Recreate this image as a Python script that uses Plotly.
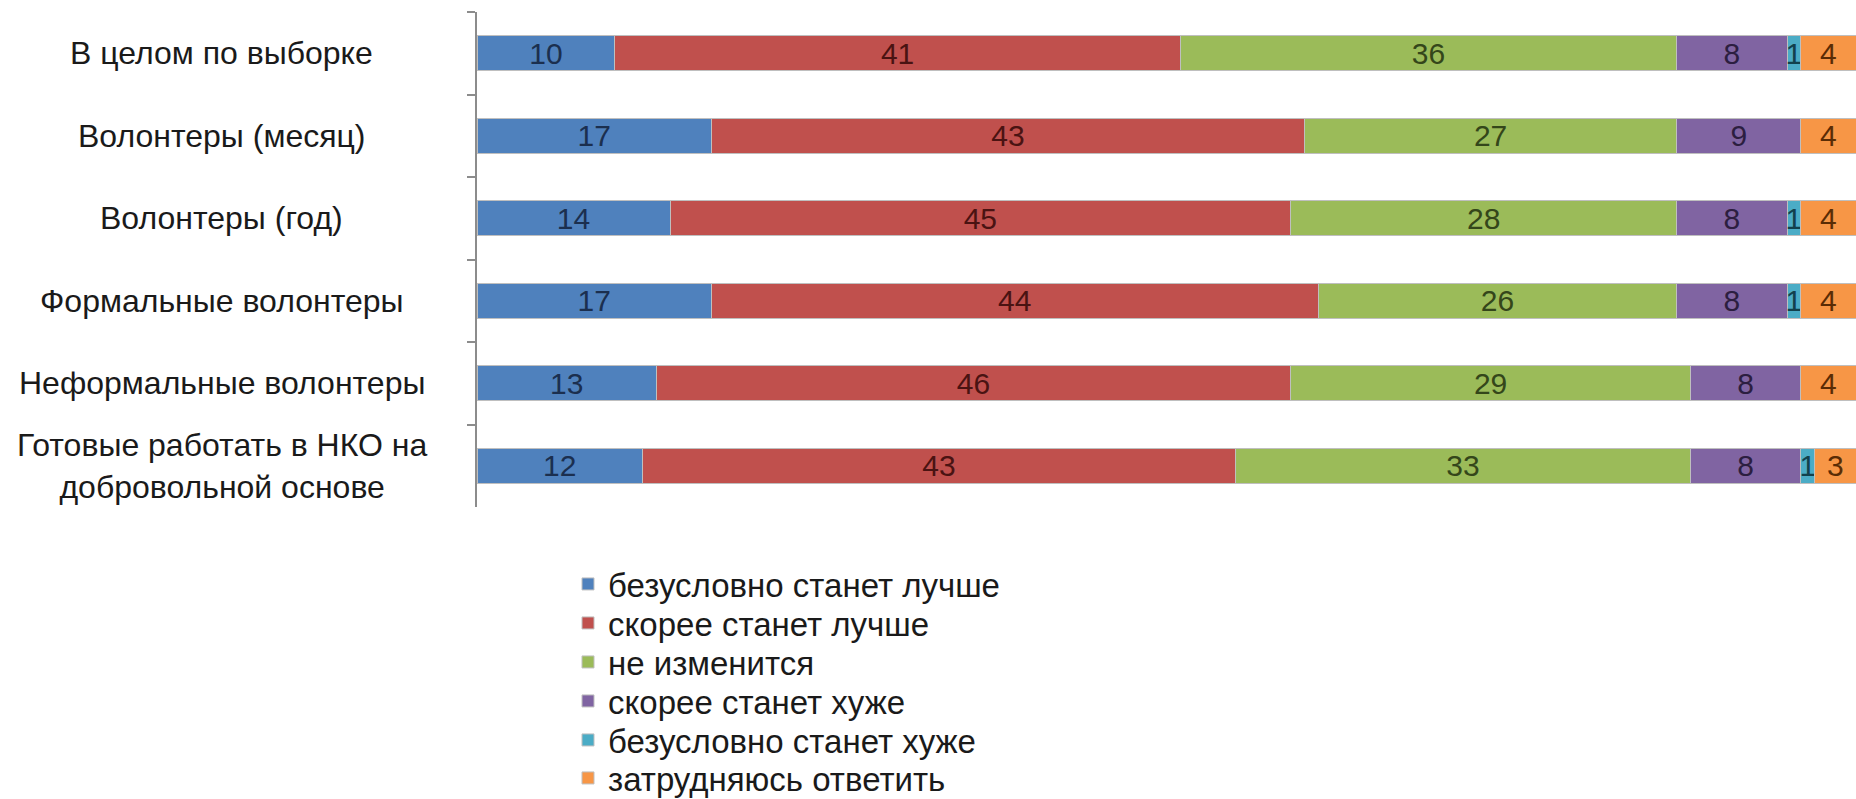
import plotly.graph_objects as go

categories = [
    "В целом по выборке",
    "Волонтеры (месяц)",
    "Волонтеры (год)",
    "Формальные волонтеры",
    "Неформальные волонтеры",
    "Готовые работать в НКО на<br>добровольной основе",
]

series_names = [
    "безусловно станет лучше",
    "скорее станет лучше",
    "не изменится",
    "скорее станет хуже",
    "безусловно станет хуже",
    "затрудняюсь ответить",
]

s_definitely_better = [10, 17, 14, 17, 13, 12]
s_rather_better = [41, 43, 45, 44, 46, 43]
s_no_change = [36, 27, 28, 26, 29, 33]
s_rather_worse = [8, 9, 8, 8, 8, 8]
s_definitely_worse = [1, 0, 1, 1, 0, 1]
s_hard_to_say = [4, 4, 4, 4, 4, 3]

series_values = [s_definitely_better, s_rather_better, s_no_change,
                 s_rather_worse, s_definitely_worse, s_hard_to_say]

colors = ["#4F81BD", "#C0504D", "#9BBB59", "#8064A2", "#4BACC6", "#F79646"]
text_colors = ["#1B2F4F", "#4A1312", "#34461A", "#2C1E40", "#12414D", "#5A2C05"]

FONT = "Liberation Sans, Arial, sans-serif"

# plot area geometry (pixels) used to place legend entries in paper coords
PLOT_TOP, PLOT_BOTTOM = 12, 507
PLOT_H = PLOT_BOTTOM - PLOT_TOP
legend_centers_px = [584, 623, 662, 701, 740, 778]

legend_ids = ["legend", "legend2", "legend3", "legend4", "legend5", "legend6"]

fig = go.Figure()
for name, vals, col, tcol, lid in zip(series_names, series_values, colors, text_colors, legend_ids):
    fig.add_trace(go.Bar(
        y=categories,
        x=[v if v else None for v in vals],
        name=name,
        orientation="h",
        marker=dict(color=col, line=dict(color="#BFBFBF", width=1)),
        text=[str(v) if v else "" for v in vals],
        textposition="inside",
        insidetextanchor="middle",
        textangle=0,
        textfont=dict(color=tcol, size=30, family=FONT),
        cliponaxis=False,
        legend=lid,
    ))

for cat in categories:
    fig.add_annotation(
        x=-0.185, xref="paper", y=cat, yref="y",
        text=cat, showarrow=False, xanchor="center", yanchor="middle",
        align="center",
        font=dict(size=32, color="#1A1A1A", family=FONT),
    )

layout_legends = {}
for lid, cy in zip(legend_ids, legend_centers_px):
    layout_legends[lid] = dict(
        x=0.066, y=(PLOT_BOTTOM - cy) / PLOT_H, xanchor="left", yanchor="middle",
        orientation="v",
        font=dict(size=33, color="#1A1A1A", family=FONT),
        itemwidth=30, bgcolor="rgba(0,0,0,0)",
    )

fig.update_layout(
    width=1856, height=799,
    barmode="stack",
    bargap=0.58,
    plot_bgcolor="white",
    paper_bgcolor="white",
    margin=dict(l=477, r=0, t=PLOT_TOP, b=799 - PLOT_BOTTOM, autoexpand=False),
    uniformtext=dict(minsize=30, mode="show"),
    font=dict(family=FONT, color="#1A1A1A"),
    showlegend=True,
    **layout_legends,
)
fig.update_xaxes(range=[0, 100], visible=False, showgrid=False)
fig.update_yaxes(
    autorange="reversed",
    showticklabels=False,
    showline=True, linecolor="#8C8C8C", linewidth=2,
    ticks="outside", tickson="boundaries", ticklen=8, tickcolor="#8C8C8C", tickwidth=2,
    showgrid=False,
)

fig.write_html("out.html", config={"displayModeBar": False},
               post_script="document.body.style.margin='0';")
